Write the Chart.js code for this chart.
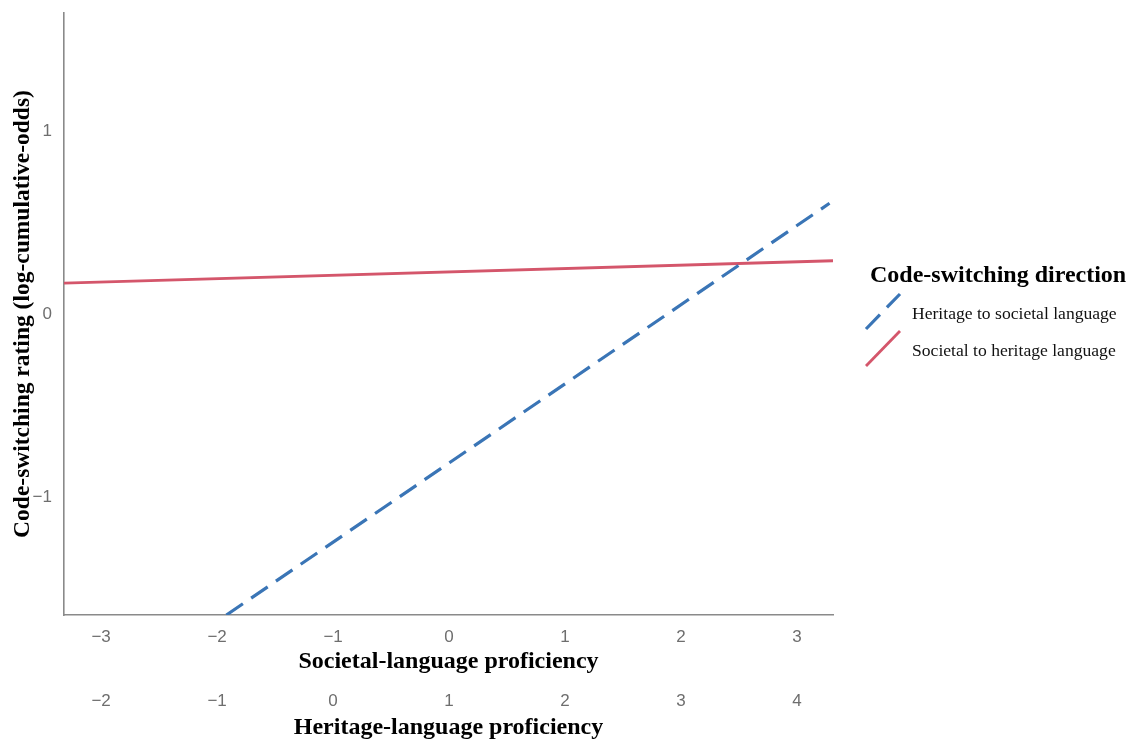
<!DOCTYPE html>
<html>
<head>
<meta charset="utf-8">
<script src="https://cdn.jsdelivr.net/npm/chart.js@4/dist/chart.umd.min.js"></script>
<style>
  html, body { margin: 0; padding: 0; background: #ffffff; }
  #wrap { width: 1127px; height: 740px; }
</style>
</head>
<body>
<div id="wrap"><canvas id="c" width="1127" height="740"></canvas></div>
<script>
// ---- data ----
const seriesNames = ["Heritage to societal language", "Societal to heritage language"];
const heritageToSocietalX = [-1.92, 3.28];
const heritageToSocietalY = [-1.645, 0.605];
const societalToHeritageX = [-3.32, 3.31];
const societalToHeritageY = [0.169, 0.291];
const societalRange = [-3.32, 3.31];      // Societal-language proficiency axis
const heritageShift = 1;                  // Heritage = Societal + 1
const ratingRange = [-1.645, 1.645];
const legendTitle = "Code-switching direction";
const yTitle = "Code-switching rating (log-cumulative-odds)";
const xTitle = "Societal-language proficiency";
const x2Title = "Heritage-language proficiency";

// ---- styles ----
const BLUE = "#3a75b6";
const RED = "#d4566b";
const AXIS = "#8a8a8a";
const TICK = "#6e6e6e";
const SERIF = "'Liberation Serif', 'DejaVu Serif', serif";
const SANS = "'Liberation Sans', Arial, sans-serif";

const toPts = (xs, ys) => xs.map((x, i) => ({ x: x, y: ys[i] }));
const fmt = v => (v < 0 ? "\u2212" + Math.abs(v) : String(v));
const noPad = s => { s.paddingTop = 0; s.paddingBottom = 0; s.paddingLeft = 0; s.paddingRight = 0; };

const legendPlugin = {
  id: "customLegend",
  afterDraw(chart) {
    const ctx = chart.ctx;
    ctx.save();
    ctx.fillStyle = "#000";
    ctx.textBaseline = "middle";
    ctx.textAlign = "left";
    ctx.font = "bold 24px " + SERIF;
    ctx.fillText(legendTitle, 870, 276);
    const rows = [314, 351];
    chart.data.datasets.forEach((ds, i) => {
      const cy = rows[i];
      ctx.save();
      ctx.strokeStyle = ds.borderColor;
      ctx.lineWidth = ds.borderWidth;
      ctx.setLineDash(ds.borderDash || []);
      ctx.beginPath();
      ctx.moveTo(866, cy + 15);
      ctx.lineTo(900, cy - 20);
      ctx.stroke();
      ctx.restore();
      ctx.fillStyle = "#111";
      ctx.font = "17.6px " + SERIF;
      ctx.fillText(ds.label, 912, cy);
    });
    ctx.restore();
  }
};

new Chart(document.getElementById("c"), {
  type: "line",
  data: {
    datasets: [
      {
        label: seriesNames[0],
        data: toPts(heritageToSocietalX, heritageToSocietalY),
        borderColor: BLUE,
        borderWidth: 3.2,
        borderDash: [20, 10],
        pointRadius: 0,
        fill: false
      },
      {
        label: seriesNames[1],
        data: toPts(societalToHeritageX, societalToHeritageY),
        borderColor: RED,
        borderWidth: 2.8,
        pointRadius: 0,
        fill: false
      }
    ]
  },
  options: {
    responsive: false,
    animation: false,
    layout: { padding: { left: 0, top: 13, right: 294, bottom: 0 } },
    plugins: { legend: { display: false }, tooltip: { enabled: false } },
    scales: {
      x: {
        type: "linear",
        position: "bottom",
        min: societalRange[0],
        max: societalRange[1],
        grid: { display: false, drawTicks: false },
        border: { display: true, color: AXIS, width: 1.6 },
        ticks: {
          stepSize: 1, includeBounds: false, padding: 12,
          color: TICK, font: { family: SANS, size: 17 },
          callback: v => fmt(v)
        },
        title: {
          display: true, text: xTitle, color: "#000",
          font: { family: SERIF, size: 24, weight: "bold", lineHeight: 1 },
          padding: { top: 0, bottom: 1 }
        },
        afterFit: s => { s.height = 60; noPad(s); }
      },
      x2: {
        type: "linear",
        position: "bottom",
        min: societalRange[0] + heritageShift,
        max: societalRange[1] + heritageShift,
        grid: { display: false, drawTicks: false },
        border: { display: false },
        ticks: {
          stepSize: 1, includeBounds: false, padding: 16,
          color: TICK, font: { family: SANS, size: 17 },
          callback: v => fmt(v)
        },
        title: {
          display: true, text: x2Title, color: "#000",
          font: { family: SERIF, size: 24, weight: "bold", lineHeight: 1 },
          padding: { top: 0, bottom: 0 }
        },
        afterFit: s => { s.height = 65; noPad(s); }
      },
      y: {
        type: "linear",
        min: ratingRange[0],
        max: ratingRange[1],
        grid: { display: false, drawTicks: false },
        border: { display: true, color: AXIS, width: 1.6 },
        ticks: {
          stepSize: 1, includeBounds: false, padding: 12,
          color: TICK, font: { family: SANS, size: 17 },
          callback: v => fmt(v)
        },
        title: {
          display: true, text: yTitle, color: "#000",
          font: { family: SERIF, size: 23.5, weight: "bold", lineHeight: 1 },
          padding: { top: 11, bottom: 0 }
        },
        afterFit: s => { s.width = 64; noPad(s); }
      }
    }
  },
  plugins: [legendPlugin]
});
</script>
</body>
</html>
